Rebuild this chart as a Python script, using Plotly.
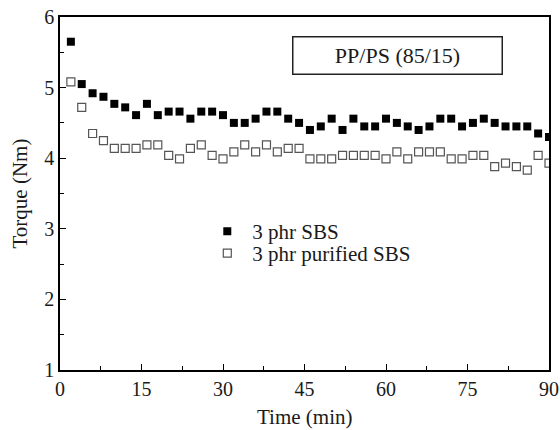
import plotly.graph_objects as go

time_min = list(range(2, 92, 2))
sbs = [5.65, 5.05, 4.92, 4.87, 4.77, 4.72, 4.61, 4.77, 4.61, 4.66,
       4.66, 4.56, 4.66, 4.66, 4.61, 4.50, 4.50, 4.56, 4.66, 4.66,
       4.56, 4.50, 4.40, 4.45, 4.56, 4.40, 4.56, 4.45, 4.45, 4.56,
       4.50, 4.45, 4.40, 4.45, 4.56, 4.56, 4.45, 4.50, 4.56, 4.50,
       4.45, 4.45, 4.45, 4.35, 4.30]
purified = [5.08, 4.72, 4.35, 4.25, 4.14, 4.14, 4.14, 4.19, 4.19, 4.04,
            3.99, 4.14, 4.19, 4.04, 3.99, 4.09, 4.19, 4.09, 4.19, 4.09,
            4.14, 4.14, 3.99, 3.99, 3.99, 4.04, 4.04, 4.04, 4.04, 3.99,
            4.09, 3.99, 4.09, 4.09, 4.09, 3.99, 3.99, 4.04, 4.04, 3.88,
            3.93, 3.88, 3.83, 4.04, 3.93]
series_names = ["3 phr SBS", "3 phr purified SBS"]
x_ticks = [0, 15, 30, 45, 60, 75, 90]
y_ticks = [1, 2, 3, 4, 5, 6]

FONT = "Liberation Serif"
TXT = "#1a1a1a"

fig = go.Figure()
fig.add_trace(go.Scatter(
    x=time_min, y=sbs, mode="markers", name=series_names[0], legend="legend",
    marker=dict(symbol="square", size=8, color="black", line=dict(width=0))))
fig.add_trace(go.Scatter(
    x=time_min, y=purified, mode="markers", name=series_names[1], legend="legend2",
    marker=dict(symbol="square-open", size=8, color="#555555",
                line=dict(width=1.2))))

axis_common = dict(
    showgrid=False, zeroline=False, showline=True, linecolor="black",
    linewidth=1.5, mirror=True, ticks="inside", ticklen=6, tickwidth=1.2,
    tickcolor="black", tickfont=dict(family=FONT, size=20, color=TXT),
    automargin=False,
)

leg_common = dict(xanchor="left", yanchor="middle", bgcolor="rgba(0,0,0,0)",
                  font=dict(family=FONT, size=21, color=TXT), itemwidth=40,
                  borderwidth=0)

fig.update_layout(
    width=560, height=430,
    margin=dict(l=60, r=11, t=17, b=59.5),
    paper_bgcolor="white", plot_bgcolor="white",
    font=dict(family=FONT, color=TXT),
    xaxis=dict(range=[0, 90], tickvals=x_ticks, ticktext=[str(v) for v in x_ticks],
               minor=dict(ticks="inside", ticklen=4, tickwidth=1, dtick=7.5,
                          tickcolor="black", showgrid=False),
               **axis_common),
    yaxis=dict(range=[1, 6], tickvals=y_ticks, ticktext=[str(v) for v in y_ticks],
               minor=dict(ticks="inside", ticklen=4, tickwidth=1, dtick=0.5,
                          tickcolor="black", showgrid=False),
               **axis_common),
    showlegend=True,
    legend=dict(x=0.291, y=0.392, **leg_common),
    legend2=dict(x=0.291, y=0.330, **leg_common),
    annotations=[
        dict(x=0.691, y=0.890, xref="paper", yref="paper", xanchor="center",
             yanchor="middle", text="PP/PS (85/15)", showarrow=False,
             font=dict(family=FONT, size=22, color=TXT),
             bordercolor="#222222", borderwidth=1.5, borderpad=0,
             width=208, height=36, bgcolor="white"),
        dict(x=0.5, y=0, xref="paper", yref="paper", xanchor="center",
             yanchor="top", yshift=-33, text="Time (min)", showarrow=False,
             font=dict(family=FONT, size=21, color=TXT)),
        dict(x=0, y=0.5, xref="paper", yref="paper", xanchor="right",
             yanchor="middle", xshift=-27, text="Torque (Nm)", textangle=-90,
             showarrow=False, font=dict(family=FONT, size=21, color=TXT)),
    ],
)

fig.write_html("out.html")
